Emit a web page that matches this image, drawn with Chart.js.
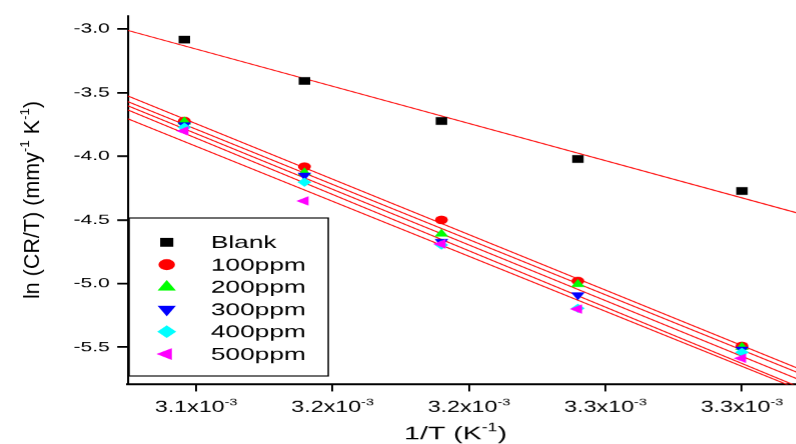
<!DOCTYPE html>
<html>
<head>
<meta charset="utf-8">
<script src="https://cdn.jsdelivr.net/npm/chart.js@4/dist/chart.umd.min.js"></script>
<style>
  html, body { margin: 0; padding: 0; background: #fff; overflow: hidden; }
  /* the reference is stretched sideways, so draw narrow and widen it */
  #wrap { width: 531px; height: 444px; transform: scaleX(1.5); transform-origin: 0 0; }
</style>
</head>
<body>
<div id="wrap"><canvas id="arrhenius"></canvas></div>
<script>
const SX = 1.5;
const FONT = '"Liberation Sans", Arial, sans-serif';

// 1/T (K^-1)
const invT = [0.0030957, 0.0031397, 0.0031899, 0.0032399, 0.0033000];

// ln(CR/T)
const blank  = [-3.084, -3.408, -3.723, -4.021, -4.273];
const ppm100 = [-3.723, -4.082, -4.500, -4.980, -5.490];
const ppm200 = [-3.728, -4.129, -4.610, -5.006, -5.500];
const ppm300 = [-3.754, -4.149, -4.671, -5.090, -5.516];
const ppm400 = [-3.772, -4.204, -4.697, -5.194, -5.540];
const ppm500 = [-3.801, -4.351, -4.689, -5.200, -5.587];

const seriesNames = ['Blank', '100ppm', '200ppm', '300ppm', '400ppm', '500ppm'];
const seriesData = [blank, ppm100, ppm200, ppm300, ppm400, ppm500];

const xTickValues = [0.00310, 0.00315, 0.00320, 0.00325, 0.00330];
const xTickLabels = ['3.1x10', '3.2x10', '3.2x10', '3.3x10', '3.3x10'];
const yTickValues = [-3.0, -3.5, -4.0, -4.5, -5.0, -5.5];

const xMin = 0.00307494, xMax = 0.00332018;
const yMin = -5.793, yMax = -2.898;

const markers = [
  { color: '#000000', style: 'rect',     rotation: 0,   r: 5.4, lr: 6.2 },
  { color: '#ff0000', style: 'circle',   rotation: 0,   r: 4.3, lr: 5.5 },
  { color: '#00ff00', style: 'triangle', rotation: 0,   r: 5.3, lr: 7 },
  { color: '#0000ff', style: 'triangle', rotation: 180, r: 5.3, lr: 7 },
  { color: '#00ffff', style: 'rectRot',  rotation: 0,   r: 4.6, lr: 6.3 },
  { color: '#ff00ff', style: 'triangle', rotation: -90, r: 5.5, lr: 6.8 }
];

function linearFit(xs, ys) {
  const n = xs.length;
  const mx = xs.reduce((a, b) => a + b, 0) / n;
  const my = ys.reduce((a, b) => a + b, 0) / n;
  let sxy = 0, sxx = 0;
  for (let i = 0; i < n; i++) {
    sxy += (xs[i] - mx) * (ys[i] - my);
    sxx += (xs[i] - mx) * (xs[i] - mx);
  }
  const slope = sxy / sxx;
  return { slope, intercept: my - slope * mx };
}

// text with superscript pieces: parts = [[text, isSup], ...]
function richWidth(ctx, parts, size) {
  let w = 0;
  parts.forEach(([t, sup]) => {
    ctx.font = (sup ? size * 0.62 : size) + 'px ' + FONT;
    w += ctx.measureText(t).width;
  });
  return w;
}
function drawRich(ctx, parts, x, y, size) {
  let cx = x;
  parts.forEach(([t, sup]) => {
    ctx.font = (sup ? size * 0.62 : size) + 'px ' + FONT;
    ctx.fillText(t, cx, sup ? y - size * 0.42 : y);
    cx += ctx.measureText(t).width;
  });
}

const datasets = [];
seriesData.forEach((ys, i) => {
  const m = markers[i];
  datasets.push({
    label: seriesNames[i],
    data: invT.map((x, j) => ({ x, y: ys[j] })),
    showLine: false,
    pointStyle: m.style,
    rotation: m.rotation,
    pointRadius: m.r,
    pointHoverRadius: m.r,
    pointBackgroundColor: m.color,
    pointBorderWidth: 0,
    order: 10 - i
  });
});
seriesData.forEach((ys, i) => {
  const fit = linearFit(invT, ys);
  datasets.push({
    label: seriesNames[i] + ' fit',
    data: [xMin, xMax].map(x => ({ x, y: fit.intercept + fit.slope * x })),
    showLine: true,
    borderColor: '#ff0000',
    borderWidth: 1,
    pointRadius: 0,
    order: 20
  });
});

const annotations = {
  id: 'annotations',
  afterDraw(chart) {
    const ctx = chart.ctx;
    const xs = chart.scales.x;
    ctx.save();
    ctx.fillStyle = '#000';

    // x tick labels with 10^-3
    ctx.textBaseline = 'alphabetic';
    xTickValues.forEach((v, i) => {
      const parts = [[xTickLabels[i], false], ['-3', true]];
      const w = richWidth(ctx, parts, 15.5);
      drawRich(ctx, parts, xs.getPixelForValue(v) - w / 2, 412, 15.5);
    });

    // axis titles
    const xt = [['1/T (K', false], ['-1', true], [')', false]];
    drawRich(ctx, xt, 303.5 - richWidth(ctx, xt, 19) / 2, 439, 19);

    ctx.save();
    ctx.translate(21, 200);
    ctx.scale(1 / SX, 1);   // keep this title unstretched, as in the reference
    ctx.rotate(-Math.PI / 2);
    const yt = [['ln (CR/T) (mmy', false], ['-1', true], [' K', false], ['-1', true], [')', false]];
    drawRich(ctx, yt, -richWidth(ctx, yt, 21.5) / 2, 7, 21.5);
    ctx.restore();

    // legend box
    const lx = 86, ly = 218, lw = 132.7, lh = 158;
    ctx.fillStyle = '#fff';
    ctx.fillRect(lx, ly, lw, lh);
    ctx.strokeStyle = '#000';
    ctx.lineWidth = 1;
    ctx.strokeRect(lx, ly, lw, lh);
    ctx.textBaseline = 'middle';
    ctx.font = '17.5px ' + FONT;
    seriesNames.forEach((name, i) => {
      const m = markers[i];
      const y = 242.3 + i * 22.35;
      ctx.fillStyle = m.color;
      Chart.helpers.drawPoint(ctx, { pointStyle: m.style, rotation: m.rotation, radius: m.lr, borderWidth: 0 }, 111.1, y);
      ctx.fillStyle = '#000';
      ctx.fillText(name, 140.5, y + 1);
    });
    ctx.restore();
  }
};

new Chart(document.getElementById('arrhenius'), {
  type: 'scatter',
  data: { datasets },
  options: {
    responsive: true,
    maintainAspectRatio: false,
    devicePixelRatio: SX,
    animation: false,
    events: [],
    layout: { autoPadding: false, padding: { top: 16, right: 0, bottom: 0, left: 0 } },
    plugins: { legend: { display: false }, tooltip: { enabled: false } },
    scales: {
      x: {
        type: 'linear',
        min: xMin,
        max: xMax,
        afterBuildTicks: s => { s.ticks = xTickValues.map(v => ({ value: v })); },
        afterFit: s => { s.height = 59.5; },
        ticks: { display: false },
        grid: { drawOnChartArea: false, drawTicks: true, tickLength: 7, color: '#000', lineWidth: 1.3 },
        border: { display: true, color: '#000', width: 2 }
      },
      y: {
        type: 'linear',
        min: yMin,
        max: yMax,
        afterBuildTicks: s => { s.ticks = yTickValues.map(v => ({ value: v })); },
        afterFit: s => { s.width = 85.1; },
        ticks: {
          color: '#000',
          padding: 5,
          font: { family: FONT, size: 14 },
          callback: v => v.toFixed(1)
        },
        grid: { drawOnChartArea: false, drawTicks: true, tickLength: 7, color: '#000', lineWidth: 1.8 },
        border: { display: true, color: '#000', width: 1.4 }
      }
    }
  },
  plugins: [annotations]
});
</script>
</body>
</html>
